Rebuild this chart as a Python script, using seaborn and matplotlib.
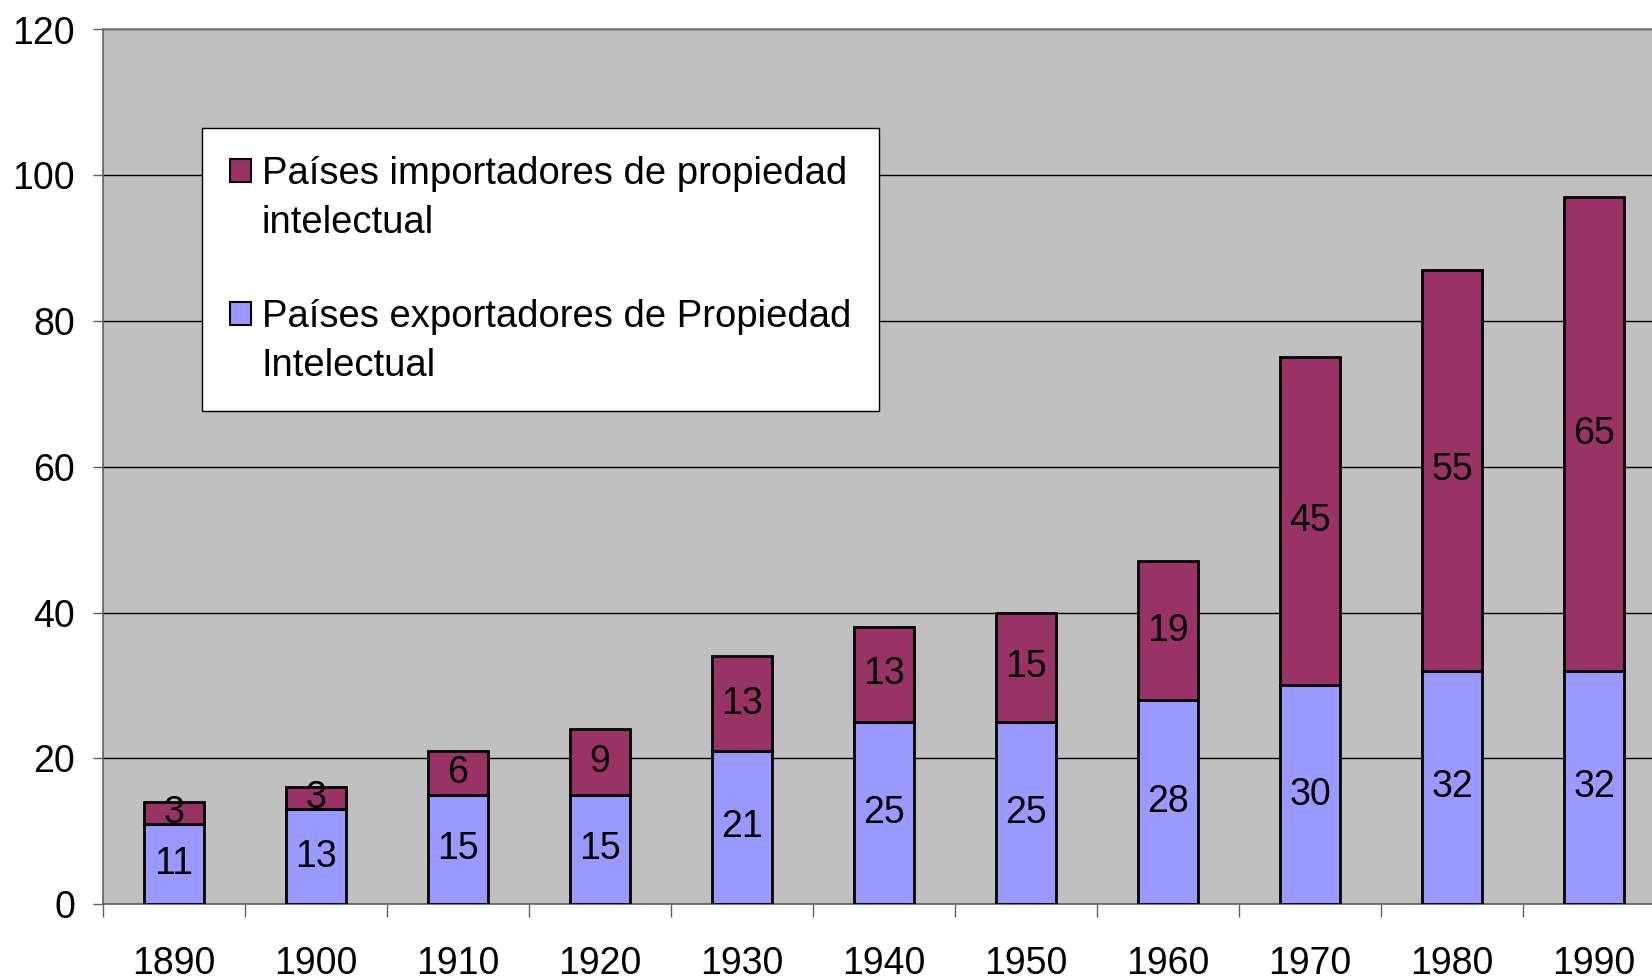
import numpy as np
import pandas as pd
import seaborn as sns
import matplotlib.pyplot as plt
from matplotlib.legend_handler import HandlerPatch

# values
years = ['1890', '1900', '1910', '1920', '1930', '1940', '1950', '1960', '1970', '1980', '1990']
exportadores = [11, 13, 15, 15, 21, 25, 25, 28, 30, 32, 32]
importadores = [3, 3, 6, 9, 13, 13, 15, 19, 45, 55, 65]
y_ticks = [0, 20, 40, 60, 80, 100, 120]

lbl_imp = 'Países importadores de propiedad\nintelectual'
lbl_exp = 'Países exportadores de Propiedad\nIntelectual'

df = pd.DataFrame({'year': years, 'exportadores': exportadores, 'importadores': importadores})

sns.set_style('white')
plt.rcParams['font.family'] = ['Liberation Sans', 'DejaVu Sans']
plt.rcParams['text.color'] = 'black'

FS = 27
LEG_FS = 27.5
LS = 1.48

fig = plt.figure(figsize=(16.52, 9.80), dpi=100)
ax = fig.add_axes([103 / 1652, 76 / 980, 1562 / 1652, 874.5 / 980])
ax.set_facecolor('#C0C0C0')

sns.barplot(data=df, x='year', y='exportadores', color='#9999FF', saturation=1,
            edgecolor='black', linewidth=2, width=0.42, ax=ax, zorder=3)
sns.barplot(data=df, x='year', y='importadores', bottom=df['exportadores'], color='#993366',
            saturation=1, edgecolor='black', linewidth=2, width=0.42, ax=ax, zorder=3)

for cont in ax.containers:
    ax.bar_label(cont, label_type='center', fontsize=FS, color='black')

ax.set_xlabel('')
ax.set_ylabel('')
ax.set_xlim(-0.5, 10.5)
ax.set_ylim(0, 120)
ax.set_yticks(y_ticks)
ax.yaxis.grid(True, color='black', linewidth=1)
ax.set_axisbelow(True)

ax.set_xticks(np.arange(-0.5, 11, 1), minor=True)
ax.tick_params(axis='x', which='major', length=0, pad=30, labelsize=FS, labelcolor='black')
ax.tick_params(axis='x', which='minor', length=9, width=1, color='#606060', bottom=True)
ax.tick_params(axis='y', which='major', length=7, width=1, color='#606060', pad=13,
               labelsize=FS, labelcolor='black', left=True)

ax.spines['right'].set_visible(False)
ax.spines['top'].set_color('#808080')
ax.spines['left'].set_color('#606060')
ax.spines['bottom'].set_color('#606060')
for s in ['top', 'left', 'bottom']:
    ax.spines[s].set_linewidth(1.2)


# legend square sits next to the first line of the two-line label
def first_line_square(legend, orig_handle, xdescent, ydescent, width, height, fontsize):
    shift = 0.5 * LS * fontsize
    return plt.Rectangle((-xdescent, -ydescent + shift), width, height)


handles = [plt.Rectangle((0, 0), 1, 1, facecolor='#993366', edgecolor='black', linewidth=1.5),
           plt.Rectangle((0, 0), 1, 1, facecolor='#9999FF', edgecolor='black', linewidth=1.5)]
leg = ax.legend(handles, [lbl_imp, lbl_exp], loc='upper left', bbox_to_anchor=(0.0634, 0.887),
                borderaxespad=0, fontsize=LEG_FS, frameon=True, fancybox=False, framealpha=1,
                edgecolor='black', handlelength=0.55, handleheight=0.55, handletextpad=0.3,
                labelspacing=1.5, borderpad=0.72,
                handler_map={plt.Rectangle: HandlerPatch(patch_func=first_line_square)})
leg.get_frame().set_linewidth(1)
for t in leg.get_texts():
    t.set_linespacing(LS)

fig.savefig('out.png', dpi=100)
